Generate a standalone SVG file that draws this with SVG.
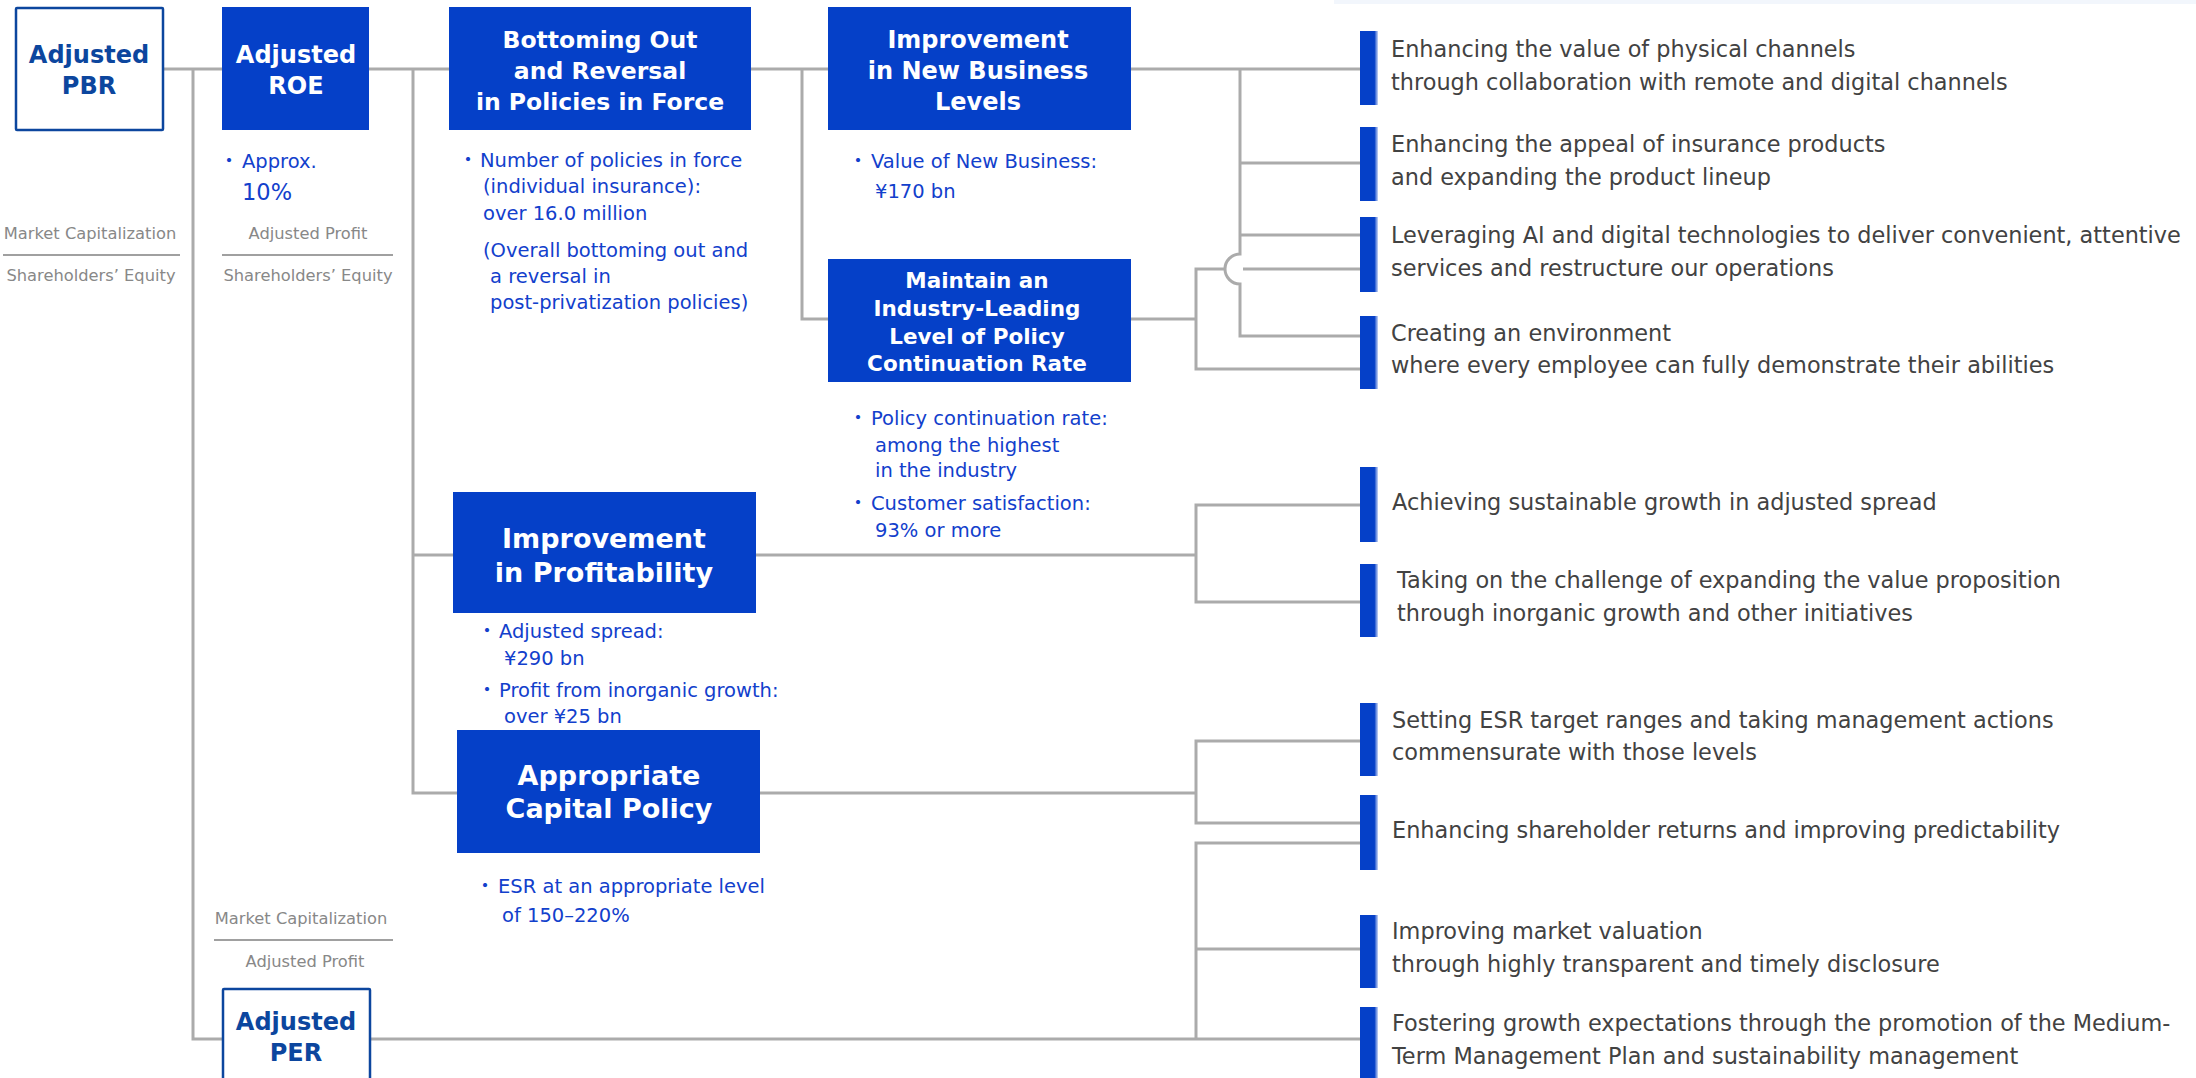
<svg xmlns="http://www.w3.org/2000/svg" width="2196" height="1078" viewBox="0 0 2196 1078">
<defs>
<linearGradient id="barGrad" x1="0" y1="0" x2="1" y2="0">
<stop offset="0" stop-color="#0540c8"/>
<stop offset="0.8" stop-color="#0540c8"/>
<stop offset="1" stop-color="#c9d6f5"/>
</linearGradient>
<style>
.conn{fill:none;stroke:#ababab;stroke-width:3}
.sep{stroke:#a0a0a0;stroke-width:2}
.box{fill:#0540c8}
.obox{fill:#ffffff;stroke:#0c469e;stroke-width:2.5}
.ttl{font-family:"DejaVu Sans","Noto Sans",sans-serif;font-weight:bold;fill:#ffffff;text-anchor:middle}
.ottl{font-family:"DejaVu Sans","Noto Sans",sans-serif;font-weight:bold;fill:#0c469e;text-anchor:middle;font-size:24px}
.sub{font-family:"DejaVu Sans","Noto Sans CJK JP",sans-serif;fill:#1240cc;font-size:19.5px}
.big{font-size:22.5px}
.dot{font-family:"Noto Sans CJK JP",sans-serif;fill:#1240cc;font-size:19.5px;text-anchor:middle}
.gray{font-family:"DejaVu Sans",sans-serif;fill:#888888;font-size:16.3px;text-anchor:middle}
.rt{font-family:"DejaVu Sans","Noto Sans",sans-serif;fill:#424242;font-size:22.4px}
.bar{fill:url(#barGrad)}
</style>
</defs>
<rect width="2196" height="1078" fill="#ffffff"/>
<rect x="1334" y="0" width="862" height="4" fill="#f2f6fc"/>

<g id="connectors">
<path class="conn" d="M163 69H222"/>
<path class="conn" d="M193 69V1039H222"/>
<path class="conn" d="M369 69H449"/>
<path class="conn" d="M413 69V793H457"/>
<path class="conn" d="M413 555H453"/>
<path class="conn" d="M751 69H828"/>
<path class="conn" d="M802 69V319H828"/>
<path class="conn" d="M1131 69H1360"/>
<path class="conn" d="M1240 69V254A15 15 0 0 0 1240 284V336H1360"/>
<path class="conn" d="M1240 163H1360"/>
<path class="conn" d="M1240 235H1360"/>
<path class="conn" d="M1243 269H1360"/>
<path class="conn" d="M1131 319H1196"/>
<path class="conn" d="M1226 269H1196V369H1360"/>
<path class="conn" d="M756 555H1196"/>
<path class="conn" d="M1360 505H1196V602H1360"/>
<path class="conn" d="M760 793H1196"/>
<path class="conn" d="M1360 741H1196V823H1360"/>
<path class="conn" d="M370 1039H1360"/>
<path class="conn" d="M1360 843H1196V1039"/>
<path class="conn" d="M1196 949H1360"/>
</g>

<g id="node-pbr">
<rect class="obox" x="16" y="8" width="147" height="122" rx="1"/>
<text class="ottl" x="89" y="63">Adjusted</text>
<text class="ottl" x="89" y="94">PBR</text>
<text class="gray" x="90" y="239">Market Capitalization</text>
<line class="sep" x1="3" y1="255" x2="180" y2="255"/>
<text class="gray" x="91" y="281">Shareholders’ Equity</text>
</g>

<g id="node-roe">
<rect class="box" x="222" y="7" width="147" height="123"/>
<text class="ttl" x="296" y="63" font-size="24">Adjusted</text>
<text class="ttl" x="296" y="94" font-size="24">ROE</text>
<text class="dot" x="229" y="168">・</text>
<text class="sub" x="242" y="168">Approx.</text>
<text class="sub big" x="242" y="200">10%</text>
<text class="gray" x="308" y="239">Adjusted Profit</text>
<line class="sep" x1="222" y1="255" x2="393" y2="255"/>
<text class="gray" x="308" y="281">Shareholders’ Equity</text>
</g>

<g id="node-bottoming">
<rect class="box" x="449" y="7" width="302" height="123"/>
<text class="ttl" x="600" y="48" font-size="23.5">Bottoming Out</text>
<text class="ttl" x="600" y="79" font-size="23.5">and Reversal</text>
<text class="ttl" x="600" y="110" font-size="23.5">in Policies in Force</text>
<text class="dot" x="468" y="167">・</text>
<text class="sub" x="480" y="167">Number of policies in force</text>
<text class="sub" x="483" y="193">(individual insurance):</text>
<text class="sub" x="483" y="220">over 16.0 million</text>
<text class="sub" x="483" y="257">(Overall bottoming out and</text>
<text class="sub" x="490" y="283">a reversal in</text>
<text class="sub" x="490" y="309">post-privatization policies)</text>
</g>

<g id="node-newbusiness">
<rect class="box" x="828" y="7" width="303" height="123"/>
<text class="ttl" x="978" y="48" font-size="24">Improvement</text>
<text class="ttl" x="978" y="79" font-size="24">in New Business</text>
<text class="ttl" x="978" y="110" font-size="24">Levels</text>
<text class="dot" x="858" y="168">・</text>
<text class="sub" x="871" y="168">Value of New Business:</text>
<text class="sub" x="875" y="198">¥170 bn</text>
</g>

<g id="node-continuation">
<rect class="box" x="828" y="259" width="303" height="123"/>
<text class="ttl" x="977" y="288" font-size="21.5">Maintain an</text>
<text class="ttl" x="977" y="316" font-size="21.5">Industry-Leading</text>
<text class="ttl" x="977" y="344" font-size="21.5">Level of Policy</text>
<text class="ttl" x="977" y="371" font-size="21.5">Continuation Rate</text>
<text class="dot" x="858" y="425">・</text>
<text class="sub" x="871" y="425">Policy continuation rate:</text>
<text class="sub" x="875" y="452">among the highest</text>
<text class="sub" x="875" y="477">in the industry</text>
<text class="dot" x="858" y="510">・</text>
<text class="sub" x="871" y="510">Customer satisfaction:</text>
<text class="sub" x="875" y="537">93% or more</text>
</g>

<g id="node-profitability">
<rect class="box" x="453" y="492" width="303" height="121"/>
<text class="ttl" x="604" y="548" font-size="27">Improvement</text>
<text class="ttl" x="604" y="582" font-size="27">in Profitability</text>
<text class="dot" x="487" y="638">・</text>
<text class="sub" x="499" y="638">Adjusted spread:</text>
<text class="sub" x="504" y="665">¥290 bn</text>
<text class="dot" x="487" y="697">・</text>
<text class="sub" x="499" y="697">Profit from inorganic growth:</text>
<text class="sub" x="504" y="723">over ¥25 bn</text>
</g>

<g id="node-capital">
<rect class="box" x="457" y="730" width="303" height="123"/>
<text class="ttl" x="609" y="785" font-size="27">Appropriate</text>
<text class="ttl" x="609" y="818" font-size="27">Capital Policy</text>
<text class="dot" x="485" y="893">・</text>
<text class="sub" x="498" y="893">ESR at an appropriate level</text>
<text class="sub" x="502" y="922">of 150–220%</text>
</g>

<g id="node-per">
<text class="gray" x="301" y="924">Market Capitalization</text>
<line class="sep" x1="214" y1="940" x2="393" y2="940"/>
<text class="gray" x="305" y="967">Adjusted Profit</text>
<rect class="obox" x="223" y="989" width="147" height="100" rx="1"/>
<text class="ottl" x="296" y="1030">Adjusted</text>
<text class="ottl" x="296" y="1061">PER</text>
</g>

<g id="node-i1">
<rect class="bar" x="1360" y="31" width="18" height="74"/>
<text class="rt" x="1391" y="57">Enhancing the value of physical channels</text>
<text class="rt" x="1391" y="90">through collaboration with remote and digital channels</text>
</g>
<g id="node-i2">
<rect class="bar" x="1360" y="127" width="18" height="74"/>
<text class="rt" x="1391" y="152">Enhancing the appeal of insurance products</text>
<text class="rt" x="1391" y="185">and expanding the product lineup</text>
</g>
<g id="node-i3">
<rect class="bar" x="1360" y="217" width="18" height="75"/>
<text class="rt" x="1391" y="243">Leveraging AI and digital technologies to deliver convenient, attentive</text>
<text class="rt" x="1391" y="276">services and restructure our operations</text>
</g>
<g id="node-i4">
<rect class="bar" x="1360" y="316" width="18" height="73"/>
<text class="rt" x="1391" y="341">Creating an environment</text>
<text class="rt" x="1391" y="373">where every employee can fully demonstrate their abilities</text>
</g>
<g id="node-i5">
<rect class="bar" x="1360" y="467" width="18" height="75"/>
<text class="rt" x="1392" y="510">Achieving sustainable growth in adjusted spread</text>
</g>
<g id="node-i6">
<rect class="bar" x="1360" y="564" width="18" height="73"/>
<text class="rt" x="1397" y="588">Taking on the challenge of expanding the value proposition</text>
<text class="rt" x="1397" y="621">through inorganic growth and other initiatives</text>
</g>
<g id="node-i7">
<rect class="bar" x="1360" y="703" width="18" height="73"/>
<text class="rt" x="1392" y="728">Setting ESR target ranges and taking management actions</text>
<text class="rt" x="1392" y="760">commensurate with those levels</text>
</g>
<g id="node-i8">
<rect class="bar" x="1360" y="795" width="18" height="75"/>
<text class="rt" x="1392" y="838">Enhancing shareholder returns and improving predictability</text>
</g>
<g id="node-i9">
<rect class="bar" x="1360" y="915" width="18" height="73"/>
<text class="rt" x="1392" y="939">Improving market valuation</text>
<text class="rt" x="1392" y="972">through highly transparent and timely disclosure</text>
</g>
<g id="node-i10">
<rect class="bar" x="1360" y="1007" width="18" height="80"/>
<text class="rt" x="1392" y="1031">Fostering growth expectations through the promotion of the Medium-</text>
<text class="rt" x="1392" y="1064">Term Management Plan and sustainability management</text>
</g>
</svg>
